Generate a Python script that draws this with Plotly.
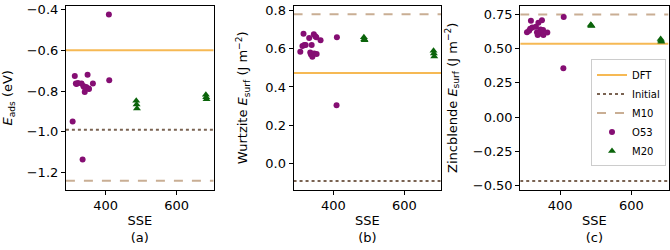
import plotly.graph_objects as go

# ---- data ----
o53_sse = [307, 313, 316, 318, 322, 332, 335, 337, 339, 341, 345, 346, 349, 352, 353, 364, 409, 410]
o53_eads = [-0.95, -0.726, -0.763, -0.765, -0.76, -0.763, -1.136, -0.775, -0.78, -0.805,
            -0.78, -0.785, -0.72, -0.787, -0.79, -0.763, -0.424, -0.747]
o53_wurtz = [0.585, 0.615, 0.678, 0.62, 0.62, 0.656, 0.58, 0.57, 0.62, 0.558,
             0.676, 0.575, 0.665, 0.66, 0.572, 0.644, 0.305, 0.66]
o53_zinc = [0.62, 0.63, 0.645, 0.703, 0.655, 0.66, 0.62, 0.60, 0.689, 0.608,
            0.64, 0.62, 0.707, 0.636, 0.60, 0.618, 0.357, 0.732]

m20_sse = [486, 487, 488, 682, 683, 684]
m20_eads = [-0.847, -0.866, -0.885, -0.818, -0.83, -0.84]
m20_wurtz = [0.66, 0.65, 0.645, 0.59, 0.575, 0.56]
m20_zinc = [0.675, 0.67, 0.665, 0.57, 0.56, 0.55]

# reference lines: DFT, Initial, M10 per panel
dft_vals = [-0.60, 0.473, 0.535]
initial_vals = [-0.99, -0.092, -0.467]
m10_vals = [-1.24, 0.78, 0.75]

x_range = [288, 704]
y_ranges = [[-1.284, -0.382], [-0.137, 0.824], [-0.53, 0.812]]
y_ticks = [[-1.2, -1.0, -0.8, -0.6, -0.4], [0.0, 0.2, 0.4, 0.6, 0.8],
           [-0.5, -0.25, 0.0, 0.25, 0.5, 0.75]]
y_fmts = [".1f", ".1f", ".2f"]
y_titles = ["<i>E</i><sub>ads</sub> (eV)",
            "Wurtzite <i>E</i><sub>surf</sub> (J m<sup>−2</sup>)",
            "Zincblende <i>E</i><sub>surf</sub> (J m<sup>−2</sup>)"]
panel_labels = ["(a)", "(b)", "(c)"]
o53_sets = [o53_eads, o53_wurtz, o53_zinc]
m20_sets = [m20_eads, m20_wurtz, m20_zinc]

W, H = 670, 250
x_px = [(66, 214), (294, 442), (521, 669.5)]
y_dom = [1 - 191 / H, 1 - 2 / H]
y_standoff = [12, 14, 12]

C_DFT = "#f6b954"
C_INIT = "#7a6352"
C_M10 = "#c9ae94"
C_O53 = "#850e73"
C_M20 = "#0b640b"
FONT = "DejaVu Sans"

fig = go.Figure()
for i in range(3):
    xa = "x" if i == 0 else f"x{i+1}"
    ya = "y" if i == 0 else f"y{i+1}"
    show = (i == 2)
    fig.add_trace(go.Scatter(x=x_range, y=[dft_vals[i]] * 2, mode="lines",
                             line=dict(color=C_DFT, width=2), name="DFT",
                             showlegend=show, xaxis=xa, yaxis=ya))
    fig.add_trace(go.Scatter(x=x_range, y=[initial_vals[i]] * 2, mode="lines",
                             line=dict(color=C_INIT, width=2, dash="dot"), name="Initial",
                             showlegend=show, xaxis=xa, yaxis=ya))
    fig.add_trace(go.Scatter(x=x_range, y=[m10_vals[i]] * 2, mode="lines",
                             line=dict(color=C_M10, width=2, dash="dash"), name="M10",
                             showlegend=show, xaxis=xa, yaxis=ya))
    fig.add_trace(go.Scatter(x=o53_sse, y=o53_sets[i], mode="markers",
                             marker=dict(color=C_O53, size=6, symbol="circle"), name="O53",
                             showlegend=show, xaxis=xa, yaxis=ya))
    fig.add_trace(go.Scatter(x=m20_sse, y=m20_sets[i], mode="markers",
                             marker=dict(color=C_M20, size=7, symbol="triangle-up"), name="M20",
                             showlegend=show, xaxis=xa, yaxis=ya))

    axis_common = dict(showline=True, linecolor="black", linewidth=1, mirror=True,
                       ticks="outside", ticklen=4, tickcolor="black", showgrid=False,
                       zeroline=False, ticklabeloverflow="allow",
                       tickfont=dict(size=13, color="black", family=FONT))
    xkey = "xaxis" if i == 0 else f"xaxis{i+1}"
    ykey = "yaxis" if i == 0 else f"yaxis{i+1}"
    fig.update_layout(**{
        xkey: dict(domain=[x_px[i][0] / W, x_px[i][1] / W], range=x_range,
                   tickvals=[400, 600], anchor=ya,
                   title=dict(text="SSE<br>" + panel_labels[i], standoff=3,
                              font=dict(size=13, color="black", family=FONT)),
                   **axis_common),
        ykey: dict(domain=y_dom, range=y_ranges[i], tickvals=y_ticks[i],
                   tickformat=y_fmts[i], anchor=xa,
                   title=dict(text=y_titles[i], standoff=y_standoff[i],
                              font=dict(size=13, color="black", family=FONT)),
                   **axis_common),
    })

fig.update_layout(
    width=W, height=H, margin=dict(l=0, r=0, t=0, b=0),
    paper_bgcolor="white", plot_bgcolor="white",
    font=dict(family=FONT, color="black"),
    legend=dict(x=667 / W, y=1 - 57 / H, xanchor="right", yanchor="top",
                bgcolor="rgba(255,255,255,0.8)", bordercolor="#cccccc", borderwidth=1,
                font=dict(size=10, family=FONT), tracegroupgap=0, itemwidth=30),
)

fig.write_html("out.html", config={"displayModeBar": False},
               post_script="document.body.style.margin='0';document.body.style.overflow='hidden';")
